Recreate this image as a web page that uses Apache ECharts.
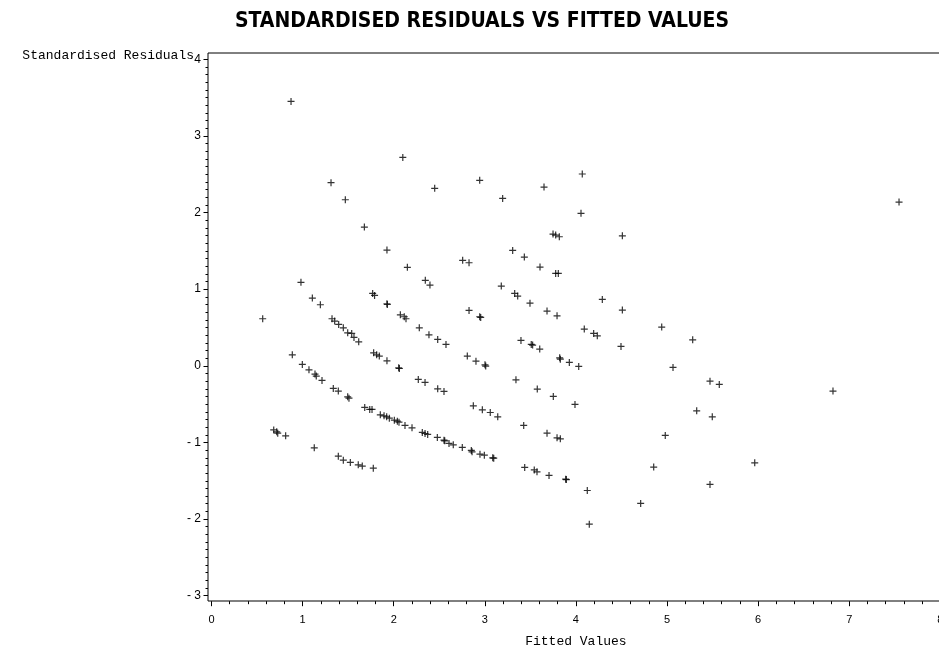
<!DOCTYPE html>
<html>
<head>
<meta charset="utf-8">
<script src="https://cdn.jsdelivr.net/npm/echarts@6/dist/echarts.min.js"></script>
<style>
  html, body { margin: 0; padding: 0; background: #fff; }
  #main { width: 939px; height: 651px; }
</style>
</head>
<body>
<div id="main"></div>
<script>
var xTicks = [0, 1, 2, 3, 4, 5, 6, 7, 8];
var yTicks = [-3, -2, -1, 0, 1, 2, 3, 4];

// fitted values / standardised residuals
var fitted = [
  0.873, 2.10, 1.312, 2.45, 1.469, 1.678, 1.926, 2.15, 0.982, 2.347, 2.398, 1.107, 1.195,
  1.769, 1.79, 1.926, 1.93, 0.562, 1.323, 1.352, 1.396, 1.447, 2.073, 2.116, 2.135, 2.281,
  4.07, 2.944, 3.65, 3.196, 4.056, 3.749, 3.778, 3.818, 4.51, 3.306, 3.434, 2.757, 2.827,
  3.606, 3.778, 3.807, 3.181, 3.328, 3.361, 3.496, 4.29, 2.827, 2.944, 2.955, 3.683, 3.793,
  4.51, 4.092, 4.942, 7.547,
  1.495, 1.539, 1.564, 1.616, 2.387, 2.483, 2.574, 1.780, 1.813, 1.842, 1.926, 2.055, 2.062,
  0.887, 0.997, 1.07, 1.136, 1.15, 1.213, 1.337, 1.392, 1.495, 1.509, 2.27, 2.344, 2.483,
  2.552, 1.682, 1.737, 1.762, 1.853, 1.894, 1.923, 1.952, 2.007, 2.04, 2.058, 2.124, 2.201,
  2.314, 2.344, 2.373, 2.479, 2.552, 2.607, 0.683, 0.716, 0.727, 0.814, 1.128, 1.392, 1.447,
  1.524, 1.611, 1.655, 1.776,
  4.195, 4.235, 3.397, 3.51, 3.525, 3.603, 4.495, 2.808, 2.903, 3.002, 3.01, 3.822, 3.829,
  3.928, 4.031, 5.066, 3.342, 3.576, 3.752, 3.99, 2.874, 2.973, 3.06, 3.142, 3.427, 3.683,
  3.793, 3.829, 4.981, 2.56, 2.654, 2.753, 2.852, 2.86, 2.947, 2.995, 3.087, 3.098, 3.438,
  3.543, 3.573, 3.705, 3.888, 3.895, 4.854, 4.125, 4.711, 4.147,
  5.282, 5.472, 5.574, 5.326, 5.497, 6.822, 5.963, 5.472
];
var residuals = [
  3.45, 2.72, 2.39, 2.316, 2.167, 1.81, 1.51, 1.285, 1.089, 1.115, 1.054, 0.884, 0.797,
  0.945, 0.919, 0.81, 0.80, 0.614, 0.614, 0.584, 0.540, 0.496, 0.666, 0.640, 0.614, 0.496,
  2.503, 2.42, 2.333, 2.185, 1.99, 1.719, 1.706, 1.684, 1.697, 1.506, 1.419, 1.376, 1.345,
  1.289, 1.206, 1.206, 1.04, 0.945, 0.91, 0.818, 0.867, 0.723, 0.64, 0.632, 0.714, 0.653,
  0.727, 0.479, 0.505, 2.137,
  0.431, 0.423, 0.371, 0.313, 0.405, 0.345, 0.279, 0.17, 0.144, 0.127, 0.065, -0.026, -0.035,
  0.144, 0.018, -0.052, -0.108, -0.134, -0.191, -0.295, -0.33, -0.405, -0.422, -0.178, -0.217, -0.3,
  -0.334, -0.543, -0.569, -0.569, -0.64, -0.653, -0.666, -0.683, -0.709, -0.722, -0.735, -0.778, -0.809,
  -0.869, -0.883, -0.896, -0.935, -0.97, -1.013, -0.836, -0.862, -0.879, -0.914, -1.07, -1.179, -1.231,
  -1.261, -1.292, -1.309, -1.336,
  0.423, 0.392, 0.331, 0.279, 0.27, 0.218, 0.253, 0.127, 0.061, 0.013, -0.004, 0.104, 0.087,
  0.044, -0.008, -0.021, -0.183, -0.304, -0.4, -0.504, -0.522, -0.574, -0.609, -0.666, -0.778, -0.879,
  -0.94, -0.953, -0.909, -0.979, -1.031, -1.065, -1.104, -1.123, -1.153, -1.166, -1.201, -1.205, -1.326,
  -1.358, -1.384, -1.431, -1.479, -1.485, -1.322, -1.627, -1.796, -2.067,
  0.339, -0.2, -0.243, -0.587, -0.666, -0.33, -1.266, -1.548
];

var points = fitted.map(function (x, i) { return [x, residuals[i]]; });

var labelFont = 'Liberation Sans, Arial, sans-serif';
var monoFont = 'Liberation Mono, DejaVu Sans Mono, monospace';

var chart = echarts.init(document.getElementById('main'), null, { renderer: 'canvas' });
chart.setOption({
  animation: false,
  backgroundColor: '#fff',
  title: [
    {
      text: 'STANDARDISED RESIDUALS VS FITTED VALUES',
      left: 477,
      textAlign: 'center',
      top: 6,
      textStyle: {
        fontFamily: 'Liberation Sans Narrow, DejaVu Sans Condensed, Arial Narrow, sans-serif',
        fontWeight: 'bold',
        fontSize: 21,
        color: '#000'
      }
    },
    {
      text: 'Standardised Residuals',
      right: 740,
      top: 44,
      textStyle: { fontFamily: monoFont, fontWeight: 'normal', fontSize: 13, color: '#000' }
    }
  ],
  grid: [
    // outer frame (left, top and bottom lines)
    { left: 208, top: 53, width: 732, height: 548, show: true, borderColor: '#000', borderWidth: 1,
      backgroundColor: 'transparent', containLabel: false, outerBoundsMode: 'none' },
    // data area
    { left: 211.5, top: 59.3, width: 728.8, height: 536.4, containLabel: false, outerBoundsMode: 'none' }
  ],
  xAxis: [
    { gridIndex: 0, type: 'value', show: false, min: 0, max: 1 },
    {
      gridIndex: 1,
      type: 'value',
      min: 0,
      max: 8,
      interval: 1,
      offset: 5.5,
      axisLine: { show: false, onZero: false },
      axisTick: { show: true, length: 5, lineStyle: { color: '#000', width: 1 } },
      minorTick: { show: true, splitNumber: 5, length: 3, lineStyle: { color: '#000', width: 1 } },
      splitLine: { show: false },
      axisLabel: {
        margin: 13,
        fontFamily: labelFont,
        fontSize: 11,
        color: '#000',
        showMaxLabel: true,
        hideOverlap: false,
        formatter: function (v) { return xTicks.indexOf(v) >= 0 ? String(v) : ''; }
      },
      name: 'Fitted Values',
      nameLocation: 'middle',
      nameGap: 34,
      nameTextStyle: { fontFamily: monoFont, fontSize: 13, color: '#000' }
    }
  ],
  yAxis: [
    { gridIndex: 0, type: 'value', show: false, min: 0, max: 1 },
    {
      gridIndex: 1,
      type: 'value',
      min: -3,
      max: 4,
      interval: 1,
      offset: 3.5,
      axisLine: { show: false, onZero: false },
      axisTick: { show: true, length: 4.5, lineStyle: { color: '#000', width: 1 } },
      minorTick: { show: true, splitNumber: 10, length: 2.5, lineStyle: { color: '#000', width: 1 } },
      splitLine: { show: false },
      axisLabel: {
        margin: 7,
        fontFamily: labelFont,
        fontSize: 12,
        color: '#000',
        formatter: function (v) {
          if (yTicks.indexOf(v) < 0) return '';
          return v < 0 ? '- ' + Math.abs(v) : String(v);
        }
      }
    }
  ],
  series: [
    {
      type: 'scatter',
      xAxisIndex: 1,
      yAxisIndex: 1,
      symbol: 'path://M0,2.9H7V4.1H0Z M2.9,0H4.1V7H2.9Z',
      symbolSize: 7,
      itemStyle: { color: '#000' },
      emphasis: { disabled: true },
      data: points
    }
  ]
});
</script>
</body>
</html>
